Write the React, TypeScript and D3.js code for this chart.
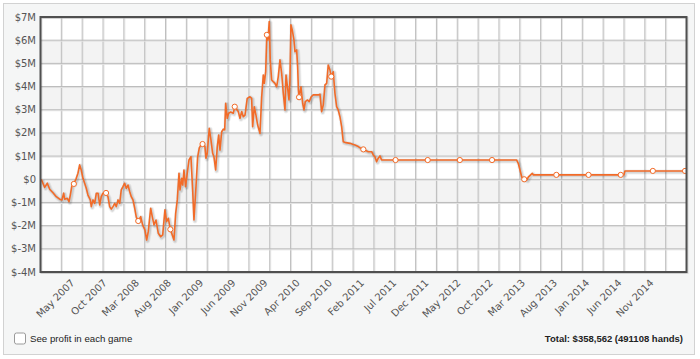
import React from 'react';
import * as d3 from 'd3';

// Decimal years of the cumulative-profit samples
const dates = [
  2006.911, 2006.955, 2006.989, 2007.020, 2007.063, 2007.105, 2007.149, 2007.179, 2007.201, 2007.214, 2007.248, 2007.270, 2007.287, 2007.309,
  2007.333,
  2007.364, 2007.386, 2007.408, 2007.429, 2007.451, 2007.473, 2007.494, 2007.516, 2007.546, 2007.559, 2007.581, 2007.603, 2007.624, 2007.646, 2007.668, 2007.688, 2007.710,
  2007.750,
  2007.775, 2007.797, 2007.818, 2007.840, 2007.862, 2007.883, 2007.905, 2007.927, 2007.947, 2007.969, 2007.991, 2008.012, 2008.034, 2008.056, 2008.077, 2008.099, 2008.121, 2008.142,
  2008.167,
  2008.199, 2008.224, 2008.254, 2008.276, 2008.297, 2008.328, 2008.349, 2008.371, 2008.397, 2008.427, 2008.458, 2008.484, 2008.513, 2008.535, 2008.556,
  2008.583,
  2008.608, 2008.630, 2008.652, 2008.673, 2008.695, 2008.708, 2008.730, 2008.743, 2008.759, 2008.781, 2008.802, 2008.824, 2008.850, 2008.872, 2008.889, 2008.915, 2008.937, 2008.958, 2008.980,
  2009.000,
  2009.031, 2009.044, 2009.061, 2009.087, 2009.109, 2009.131, 2009.148, 2009.170, 2009.191, 2009.209, 2009.226, 2009.248, 2009.269, 2009.287, 2009.300, 2009.320, 2009.338, 2009.364, 2009.398,
  2009.417,
  2009.463, 2009.485, 2009.507, 2009.528, 2009.550, 2009.579, 2009.614, 2009.636, 2009.649, 2009.670, 2009.692, 2009.714, 2009.744, 2009.766, 2009.787, 2009.800, 2009.818,
  2009.833,
  2009.847, 2009.864, 2009.877, 2009.895, 2009.916, 2009.938, 2009.960, 2009.981, 2010.003, 2010.025, 2010.046, 2010.068, 2010.081, 2010.097, 2010.120, 2010.132, 2010.145, 2010.162, 2010.184, 2010.197, 2010.219, 2010.232, 2010.242,
  2010.250,
  2010.275, 2010.297, 2010.314, 2010.331, 2010.356, 2010.382, 2010.408, 2010.434, 2010.469, 2010.499, 2010.521, 2010.543, 2010.564, 2010.586, 2010.608, 2010.628, 2010.650,
  2010.667,
  2010.693, 2010.715, 2010.737, 2010.758, 2010.780, 2010.802, 2010.823, 2010.858, 2010.910, 2010.945, 2010.974, 2011.017, 2011.061,
  2011.083,
  2011.147, 2011.191, 2011.211, 2011.233, 2011.255, 2011.276, 2011.298, 2011.320, 2011.363,
  2011.500, 2011.917, 2012.333, 2012.750,
  2013.069, 2013.090, 2013.134, 2013.154,
  2013.167,
  2013.202, 2013.219, 2013.250, 2013.271, 2013.284,
  2013.583, 2014.000, 2014.417,
  2014.459, 2014.472,
  2014.833, 2015.250,
];

// Cumulative profit, millions of dollars
const profit = [
  0.00, -0.35, -0.17, -0.43, -0.58, -0.75, -0.86, -0.89, -0.60, -0.86, -0.82, -0.97, -0.68, -0.25,
  -0.20,
  0.04, 0.26, 0.62, 0.40, 0.04, -0.17, -0.39, -0.68, -0.89, -1.18, -0.89, -1.04, -0.60, -0.60, -1.11, -0.75, -0.60,
  -0.59,
  -0.75, -1.18, -1.29, -1.18, -1.04, -1.18, -0.89, -1.04, -0.46, -0.32, -0.17, -0.39, -0.25, -0.53, -0.75, -0.89, -1.24, -1.63,
  -1.80,
  -1.61, -1.97, -2.19, -2.62, -2.26, -1.25, -1.61, -1.97, -1.76, -2.33, -2.48, -2.40, -1.32, -1.83, -1.68,
  -2.16,
  -2.40, -2.62, -1.47, -0.89, 0.26, -0.46, 0.04, -0.25, 0.40, -0.32, 0.26, 0.83, 0.97, -0.46, -1.76, -0.32, 0.97, 1.35, 1.48,
  1.52,
  1.41, 0.91, 1.12, 2.20, 1.70, 1.12, 0.97, 0.40, 1.41, 1.91, 1.26, 2.05, 2.16, 2.13, 3.28, 2.63, 2.85, 2.90, 2.85,
  3.13,
  2.92, 2.63, 2.92, 2.70, 2.77, 3.49, 3.56, 3.49, 2.27, 3.13, 2.77, 2.34, 1.98, 3.56, 4.50, 4.14, 4.64,
  6.23,
  6.01, 6.80, 5.15, 4.28, 4.21, 4.14, 3.99, 4.43, 5.15, 4.57, 3.71, 2.99, 4.50, 4.07, 3.42, 4.28, 6.66, 6.44, 6.01, 5.50, 5.58, 4.86, 3.85,
  3.54,
  3.99, 3.28, 2.99, 3.35, 3.42, 3.35, 3.56, 3.64, 3.64, 3.64, 3.67, 2.92, 3.21, 4.07, 4.14, 4.93, 4.72,
  4.43,
  4.64, 3.71, 3.13, 2.99, 2.70, 2.27, 1.62, 1.58, 1.55, 1.51, 1.48, 1.41, 1.31,
  1.29,
  1.19, 1.19, 1.05, 0.97, 0.76, 0.91, 1.01, 0.83, 0.83,
  0.83, 0.83, 0.83, 0.83,
  0.83, 0.69, 0.11, 0.00,
  0.00,
  -0.03, 0.09, 0.19, 0.26, 0.19,
  0.19, 0.19, 0.19,
  0.19, 0.36,
  0.36, 0.36,
];

const monthNames = ['Jan', 'Feb', 'Mar', 'Apr', 'May', 'Jun', 'Jul', 'Aug', 'Sep', 'Oct', 'Nov', 'Dec'];
const tickLabels = [
  'May 2007', 'Oct 2007', 'Mar 2008', 'Aug 2008', 'Jan 2009', 'Jun 2009', 'Nov 2009', 'Apr 2010', 'Sep 2010',
  'Feb 2011', 'Jul 2011', 'Dec 2011', 'May 2012', 'Oct 2012', 'Mar 2013', 'Aug 2013', 'Jan 2014', 'Jun 2014', 'Nov 2014',
];
const markerLabels = [...tickLabels, 'Apr 2015'];
const yTicks = [-4, -3, -2, -1, 0, 1, 2, 3, 4, 5, 6, 7];
const xDomain = [2006.901, 2015.269];
const gridColumns = 31;
const totalText = 'Total: $358,562 (491108 hands)';
const checkboxText = 'See profit in each game';

const labelYear = (s: string) => {
  const [m, y] = s.split(' ');
  return +y + monthNames.indexOf(m) / 12;
};

const fmtY = (v: number) => (v === 0 ? '$0' : `$${v}M`);

export default function App() {
  const L = 40.5, R = 686.5, T = 17, B = 272;
  const x = d3.scaleLinear().domain(xDomain).range([L, R]);
  const y = d3.scaleLinear().domain([-4, 7]).range([B, T]);
  const data = dates.map((t, i) => ({ t, v: profit[i] })).filter((d) => d.v !== undefined);
  const line = d3.line<{ t: number; v: number }>().x((d) => x(d.t)).y((d) => y(d.v));
  const path = line(data) || '';
  const markerYears = markerLabels.map(labelYear);
  const markers = data.filter((d) => markerYears.some((m) => Math.abs(m - d.t) < 0.003));
  const gridYears = d3.range(1, gridColumns).map((i) => xDomain[0] + (i * (xDomain[1] - xDomain[0])) / gridColumns);
  const orange = '#f26b28';
  const font = '"DejaVu Sans", Verdana, sans-serif';
  const font2 = '"Liberation Sans", Arial, sans-serif';

  return (
    <svg width={700} height={359} style={{ position: 'absolute', left: 0, top: 0 }} fontFamily={font}>
      <rect x={3.5} y={3.5} width={691} height={351} fill="#f5f6f6" stroke="#d2d2d2" />
      <defs>
        <clipPath id="plotclip">
          <rect x={L} y={T} width={R - L} height={B - T} />
        </clipPath>
      </defs>
      <rect x={L} y={T} width={R - L} height={B - T} fill="#ffffff" />
      {yTicks.slice(0, -1).map((v) =>
        ((v + 4) % 2 === 1) ? (
          <rect key={'band' + v} x={L} y={y(v + 1)} width={R - L} height={y(v) - y(v + 1)} fill="#f3f3f3" />
        ) : null
      )}
      {gridYears.map((g, i) => (
        <g key={'vg' + i}>
          <line x1={x(g) + 1} x2={x(g) + 1} y1={T} y2={B} stroke="#e6e6e6" />
          <line x1={x(g)} x2={x(g)} y1={T} y2={B} stroke="#bdbdbd" />
        </g>
      ))}
      {yTicks.map((v) => (
        <g key={'hg' + v}>
          <line x1={L} x2={R} y1={y(v) + 1} y2={y(v) + 1} stroke="#e2e2e2" />
          <line x1={L} x2={R} y1={y(v)} y2={y(v)} stroke="#bbbbbb" />
        </g>
      ))}
      <g clipPath="url(#plotclip)">
        <path d={path} fill="none" stroke="#000" strokeOpacity={0.06} strokeWidth={5} transform="translate(1,1)" strokeLinejoin="round" />
        <path d={path} fill="none" stroke="#000" strokeOpacity={0.1} strokeWidth={3} transform="translate(1,1)" strokeLinejoin="round" />
        <path d={path} fill="none" stroke={orange} strokeWidth={1.6} strokeLinejoin="round" />
        {markers.map((d, i) => (
          <circle key={'m' + i} cx={x(d.t)} cy={y(d.v)} r={2.6} fill="#fff" stroke={orange} strokeWidth={1} />
        ))}
      </g>
      <rect x={L + 1} y={T + 1} width={R - L} height={B - T} fill="none" stroke="#000" strokeOpacity={0.12} strokeWidth={2} />
      <rect x={L} y={T} width={R - L} height={B - T} fill="none" stroke="#505050" strokeWidth={2} />
      {yTicks.map((v) => (
        <text key={'yl' + v} x={36} y={y(v)} dy="0.35em" textAnchor="end" fontSize={10} fill="#555">
          {fmtY(v)}
        </text>
      ))}
      {tickLabels.map((s) => (
        <text
          key={s}
          transform={`translate(${x(labelYear(s)) + 1.5},${283.5}) rotate(-45)`}
          textAnchor="end"
          fontSize={10}
          fill="#555"
        >
          {s}
        </text>
      ))}
      <rect x={14.5} y={333} width={11} height={11} rx={2} fill="#fff" stroke="#9a9a9a" />
      <text x={30} y={341.8} fontSize={9.7} fontFamily={font2} fill="#222">
        {checkboxText}
      </text>
      <text x={683} y={341.8} fontSize={9.5} fontWeight="bold" fontFamily={font2} textAnchor="end" fill="#222">
        {totalText}
      </text>
    </svg>
  );
}
